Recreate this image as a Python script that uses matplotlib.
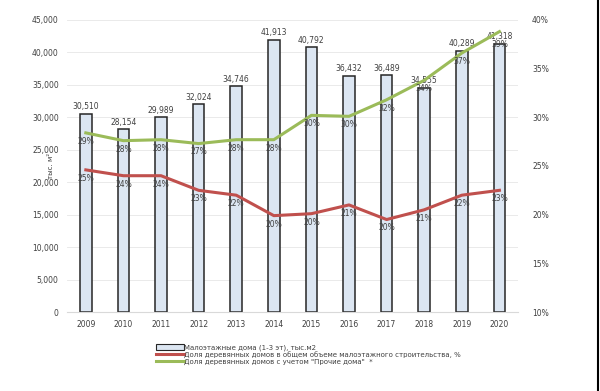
import matplotlib
matplotlib.use("Agg")
import matplotlib.pyplot as plt
from matplotlib.lines import Line2D
from matplotlib.patches import Patch
import numpy as np

years = [2009, 2010, 2011, 2012, 2013, 2014, 2015, 2016, 2017, 2018, 2019, 2020]
lowrise = [30510, 28154, 29989, 32024, 34746, 41913, 40792, 36432, 36489, 34555, 40289, 41318]
wood_share = [24.6, 24.0, 24.0, 22.5, 22.0, 19.9, 20.1, 21.0, 19.5, 20.5, 22.0, 22.5]
wood_share_labels = ["25%", "24%", "24%", "23%", "22%", "20%", "20%", "21%", "20%", "21%", "22%", "23%"]
wood_other = [28.4, 27.6, 27.7, 27.3, 27.7, 27.7, 30.2, 30.1, 31.8, 33.8, 36.6, 38.8]
wood_other_labels = ["29%", "28%", "28%", "27%", "28%", "28%", "30%", "30%", "32%", "34%", "37%", "39%"]

legend_labels = ["Малоэтажные дома (1-3 эт), тыс.м2",
                 "Доля деревянных домов в общем объеме малоэтажного строительства, %",
                 "Доля деревянных домов с учетом \"Прочие дома\"  *"]

txt = "#404040"
bar_fc = "#dce6f2"
red = "#c0504d"
green = "#9bbb59"

fig = plt.figure(figsize=(6, 3.91), dpi=100)
ax = fig.add_axes([0.1117, 0.202, 0.752, 0.747])
x = np.arange(len(years))
ax.bar(x, lowrise, width=0.31, color=bar_fc, edgecolor="#262626", linewidth=1.1, zorder=2)
for xi, v in zip(x, lowrise):
    ax.text(xi, v + 400, f"{v:,}", ha="center", va="bottom", fontsize=5.5, color=txt)
ax.set_ylim(0, 45000)
ax.set_xlim(-0.5, len(years) - 0.5)
ax.set_yticks(np.arange(0, 45001, 5000))
ax.set_yticklabels([f"{v:,}" for v in range(0, 45001, 5000)])
ax.set_xticks(x)
ax.set_xticklabels([str(y) for y in years])
ax.grid(axis="y", color="#e6e6e6", linewidth=0.6, zorder=0)
ax.set_axisbelow(True)
for s in ["top", "right", "left"]:
    ax.spines[s].set_visible(False)
ax.spines["bottom"].set_color("#d9d9d9")
ax.spines["bottom"].set_linewidth(0.8)
ax.tick_params(axis="both", length=0, labelsize=5.5, labelcolor=txt, pad=6)
ax.text(-0.036, 0.5, "тыс. м²", transform=ax.transAxes, rotation=90,
        ha="center", va="center", fontsize=5, color=txt)

ax2 = ax.twinx()
ax2.set_ylim(10, 40)
ax2.set_yticks([10, 15, 20, 25, 30, 35, 40])
ax2.set_yticklabels([f"{v}%" for v in [10, 15, 20, 25, 30, 35, 40]])
for s in ["top", "right", "left", "bottom"]:
    ax2.spines[s].set_visible(False)
ax2.tick_params(axis="y", length=0, labelsize=5.5, labelcolor=txt, pad=10)
ax2.plot(x, wood_share, color=red, linewidth=2.2, zorder=3)
ax2.plot(x, wood_other, color=green, linewidth=2.2, zorder=3)
for xi, v, l in zip(x, wood_share, wood_share_labels):
    ax2.text(xi, v - 0.4, l, ha="center", va="top", fontsize=5.5, color=txt)
for i, (xi, v, l) in enumerate(zip(x, wood_other, wood_other_labels)):
    off = 0.4 if i < len(x) - 1 else 0.9
    ax2.text(xi, v - off, l, ha="center", va="top", fontsize=5.5, color=txt)

handles = [Patch(facecolor=bar_fc, edgecolor="#262626", linewidth=0.8),
           Line2D([0], [0], color=red, linewidth=2.2),
           Line2D([0], [0], color=green, linewidth=2.2)]
fig.legend(handles, legend_labels, loc="upper left", bbox_to_anchor=(0.255, 0.128),
           frameon=False, fontsize=5, labelcolor=txt, handlelength=4.0, handleheight=1.0,
           handletextpad=0.1, labelspacing=0.05, borderaxespad=0)

fig.add_artist(Line2D([0.997, 0.997], [0, 1], color="black", linewidth=1.5, transform=fig.transFigure))

fig.savefig("out.png", dpi=100, facecolor="white")
